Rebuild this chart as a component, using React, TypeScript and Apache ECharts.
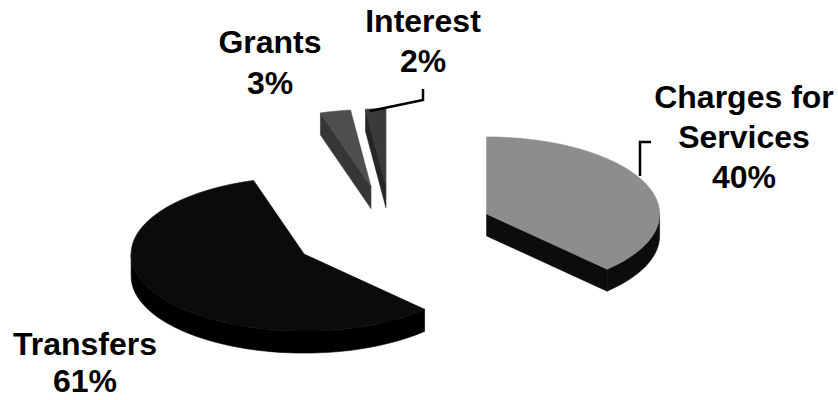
import React, { useEffect, useRef } from "react";
import * as echarts from "echarts";

// ---- data ----
const categories = ["Charges for Services", "Transfers", "Grants", "Interest"];
const labelNames = [["Charges for", "Services"], ["Transfers"], ["Grants"], ["Interest"]];
const shares = [40, 61, 3, 2];

// ---- styles / layout ----
const TOP_FILL = ["#8d8d8d", "#0b0b0b", "#4e4e4e", "#3a3a3a"];
const SIDE_FILL = ["#0c0c0c", "#000000", "#363636", "#262626"];
const PIE = { cx: 392, cy: 231, rx: 173, ry: 77, depth: 22, explode: 0.59, start: 90 };
const LABEL_ANCHORS = [
  [744, 108],
  [85, 355],
  [270, 53],
  [423, 32],
];
const LINE_GAPS = [40, 37, 41, 40];
const LEADERS = [
  [[640, 176], [640, 142], [651, 142]],
  [[370, 111], [423, 100], [423, 89]],
];

const total = shares.reduce((a, b) => a + b, 0);
const spans = shares.map((v) => (v / total) * 360);
const starts = spans.map((_, i) => PIE.start - spans.slice(0, i).reduce((a, b) => a + b, 0));

const rad = (d: number) => (d * Math.PI) / 180;

function poly(points: number[][], fill: string, z2: number) {
  return {
    type: "polygon",
    shape: { points },
    style: { fill, stroke: fill, lineWidth: 0.6 },
    z2,
  };
}

function renderSlice(params: any, api: any) {
  const i = params.dataIndex;
  const span = (api.value(0) / total) * 360;
  const a0 = starts[i];
  const a1 = a0 - span;
  const mid = (a0 + a1) / 2;
  const cx = PIE.cx + PIE.explode * PIE.rx * Math.cos(rad(mid));
  const cy = PIE.cy - PIE.explode * PIE.ry * Math.sin(rad(mid));
  const P = (t: number, dz = 0) => [cx + PIE.rx * Math.cos(rad(t)), cy - PIE.ry * Math.sin(rad(t)) + dz];
  const arc = (from: number, to: number, dz = 0) => {
    const n = Math.max(2, Math.ceil(Math.abs(from - to) / 2));
    const pts: number[][] = [];
    for (let k = 0; k <= n; k++) pts.push(P(from + ((to - from) * k) / n, dz));
    return pts;
  };
  const d = PIE.depth;
  const base = Math.round(cy) * 4;
  const children: any[] = [];
  if (Math.cos(rad(a0)) < -1e-6)
    children.push(poly([[cx, cy], P(a0), P(a0, d), [cx, cy + d]], SIDE_FILL[i], base));
  if (Math.cos(rad(a1)) > 1e-6)
    children.push(poly([[cx, cy], P(a1), P(a1, d), [cx, cy + d]], SIDE_FILL[i], base));
  const hi = Math.min(a0, 0);
  const lo = Math.max(a1, -180);
  if (hi > lo) children.push(poly([...arc(hi, lo), ...arc(lo, hi, d)], SIDE_FILL[i], base + 1));
  children.push(poly([[cx, cy], ...arc(a0, a1)], TOP_FILL[i], base + 2));
  return { type: "group", children };
}

export default function App() {
  const ref = useRef<HTMLDivElement>(null);
  useEffect(() => {
    if (!ref.current) return;
    const chart = echarts.init(ref.current, undefined, { renderer: "svg" });
    const texts: any[] = [];
    shares.forEach((v, i) => {
      const lines = [...labelNames[i], `${v}%`];
      lines.forEach((line, k) => {
        texts.push({
          type: "text",
          z: 100,
          style: {
            text: line,
            x: LABEL_ANCHORS[i][0],
            y: LABEL_ANCHORS[i][1] + k * LINE_GAPS[i] - 11,
            textAlign: "center",
            textVerticalAlign: "middle",
            fontSize: 32,
            fontWeight: "bold",
            fontFamily: '"Liberation Sans", Arial, sans-serif',
            fill: "#000",
          },
        });
      });
    });
    const leaders = LEADERS.map((pts) => ({
      type: "polyline",
      z: 100,
      shape: { points: pts },
      style: { stroke: "#000", lineWidth: 2.5, fill: "none" },
    }));
    chart.setOption({
      animation: false,
      backgroundColor: "#ffffff",
      series: [
        {
          type: "custom",
          coordinateSystem: "none",
          silent: true,
          renderItem: renderSlice,
          data: shares.map((v, i) => ({ name: categories[i], value: v })),
        },
      ],
      graphic: [...leaders, ...texts],
    });
    return () => chart.dispose();
  }, []);
  return (
    <div
      ref={ref}
      style={{ position: "fixed", left: 0, top: 0, width: 838, height: 400, background: "#fff" }}
    />
  );
}
